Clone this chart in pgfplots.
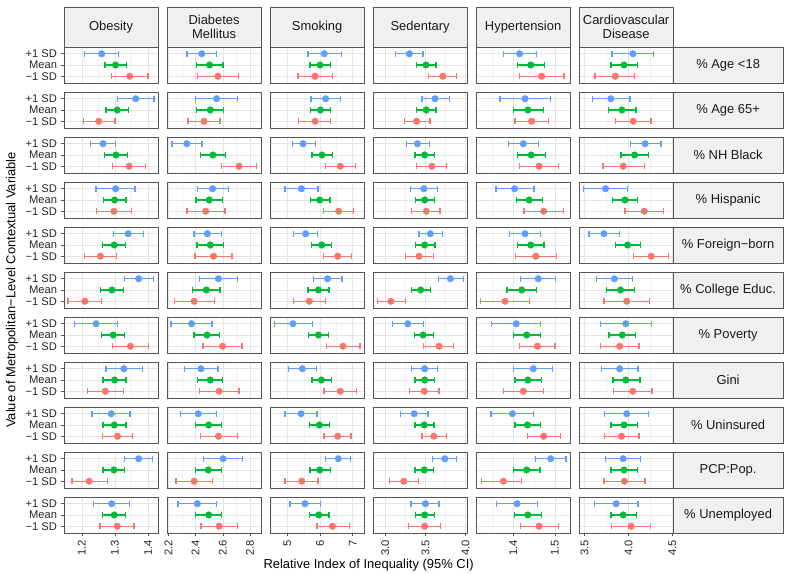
\documentclass[border=0pt]{standalone}
\usepackage{pgfplots}
\pgfplotsset{compat=1.18}
\usepgfplotslibrary{groupplots}
\usetikzlibrary{calc}
\usepackage{fontspec}
\setmainfont{Liberation Sans}
\definecolor{cA}{HTML}{619CFF}
\definecolor{cB}{HTML}{00BA38}
\definecolor{cC}{HTML}{F8766D}
\definecolor{stripfill}{HTML}{F0F0F0}
\definecolor{frame}{HTML}{555555}
\newcommand{\ci}[5]{%
\addplot[#1, only marks, mark=*, mark size=3.3bp, mark options={fill=#1, draw=none},
  error bars/.cd, x dir=both, x explicit,
  error bar style={line width=1.3bp, draw=#1, solid},
  error mark=|,
  error mark options={draw=#1, line width=1.3bp, mark size=3bp}]
  table[row sep=\\, x=e, y=y, x error plus expr=\thisrow{h}-\thisrow{e}, x error minus expr=\thisrow{e}-\thisrow{l}]
  {y l e h\\ #2 #3 #4 #5\\};}
\newcommand{\panel}[9]{\ci{cA}{3}{#1}{#2}{#3}\ci{cB}{2}{#4}{#5}{#6}\ci{cC}{1}{#7}{#8}{#9}}
\begin{document}
\begin{tikzpicture}
\pgfplotsset{
 c1/.style={xmin=1.146,xmax=1.431,xtick={1.2,1.3,1.4},minor xtick={1.15,1.25,1.35},xticklabels={1.2,1.3,1.4},yticklabels={−1 SD,Mean,+1 SD}},
 c2/.style={xmin=2.19,xmax=2.882,xtick={2.2,2.4,2.6,2.8},minor xtick={2.3,2.5,2.7},xticklabels={2.2,2.4,2.6,2.8},ytick style={draw=none}},
 c3/.style={xmin=4.47,xmax=7.35,xtick={5,6,7},minor xtick={4.5,5.5,6.5},xticklabels={5,6,7},ytick style={draw=none}},
 c4/.style={xmin=2.847,xmax=4.02,xtick={3,3.5,4},minor xtick={3.25,3.75},xticklabels={3.0,3.5,4.0},ytick style={draw=none}},
 c5/.style={xmin=1.31,xmax=1.537,xtick={1.4,1.5},minor xtick={1.35,1.45},xticklabels={1.4,1.5},ytick style={draw=none}},
 c6/.style={xmin=3.437,xmax=4.51,xtick={3.5,4,4.5},minor xtick={3.75,4.25},xticklabels={3.5,4.0,4.5},ytick style={draw=none}},
 T/.style={xticklabels={},xtick style={draw=none}},
}
\begin{groupplot}[group style={group size=6 by 11, horizontal sep=8.8bp, vertical sep=9bp, group name=g},
 scale only axis, width=94.2bp, height=36bp, ymin=0.4, ymax=3.6, ytick={1,2,3}, yticklabels={},
 axis line style={draw=frame, line width=0.8bp},
 grid=both, major grid style={draw=black!10, line width=0.6bp}, minor grid style={draw=black!5, line width=0.35bp},
 tick align=outside, major tick length=3.5bp, minor tick length=0bp, tick style={frame, line width=0.6bp},
 xtick pos=bottom, ytick pos=left,
 ticklabel style={font=\fontsize{11.2}{13}\selectfont, text=black!85},
 xticklabel style={rotate=90, anchor=east},
 /pgf/number format/assume math mode=true]
% Row 1 Age <18
\nextgroupplot[c1,T]\panel{1.208}{1.26}{1.31}{1.27}{1.302}{1.336}{1.29}{1.345}{1.40}
\nextgroupplot[c2,T]\panel{2.336}{2.445}{2.556}{2.408}{2.503}{2.602}{2.413}{2.564}{2.716}
\nextgroupplot[c3,T]\panel{5.63}{6.13}{6.65}{5.69}{6.00}{6.31}{5.33}{5.85}{6.37}
\nextgroupplot[c4,T]\panel{3.13}{3.30}{3.47}{3.39}{3.506}{3.63}{3.54}{3.716}{3.89}
\nextgroupplot[c5,T]\panel{1.376}{1.415}{1.456}{1.41}{1.442}{1.475}{1.414}{1.468}{1.522}
\nextgroupplot[c6,T]\panel{3.813}{4.051}{4.289}{3.80}{3.95}{4.10}{3.62}{3.85}{4.07}
% Row 2 Age 65+
\nextgroupplot[c1,T]\panel{1.307}{1.363}{1.418}{1.273}{1.307}{1.341}{1.204}{1.251}{1.30}
\nextgroupplot[c2,T]\panel{2.40}{2.554}{2.709}{2.408}{2.508}{2.607}{2.345}{2.462}{2.58}
\nextgroupplot[c3,T]\panel{5.72}{6.17}{6.62}{5.70}{6.01}{6.33}{5.35}{5.85}{6.33}
\nextgroupplot[c4,T]\panel{3.457}{3.62}{3.80}{3.39}{3.51}{3.63}{3.235}{3.39}{3.556}
\nextgroupplot[c5,T]\panel{1.368}{1.428}{1.489}{1.40}{1.435}{1.472}{1.404}{1.444}{1.484}
\nextgroupplot[c6,T]\panel{3.59}{3.80}{4.017}{3.775}{3.926}{4.085}{3.85}{4.055}{4.258}
% Row 3 NH Black
\nextgroupplot[c1,T]\panel{1.227}{1.264}{1.301}{1.269}{1.303}{1.338}{1.293}{1.343}{1.393}
\nextgroupplot[c2,T]\panel{2.227}{2.336}{2.447}{2.438}{2.527}{2.619}{2.588}{2.719}{2.85}
\nextgroupplot[c3,T]\panel{5.15}{5.48}{5.86}{5.75}{6.06}{6.37}{6.16}{6.62}{7.08}
\nextgroupplot[c4,T]\panel{3.26}{3.40}{3.55}{3.37}{3.49}{3.61}{3.39}{3.58}{3.765}
\nextgroupplot[c5,T]\panel{1.388}{1.424}{1.461}{1.41}{1.443}{1.477}{1.414}{1.462}{1.509}
\nextgroupplot[c6,T]\panel{4.02}{4.19}{4.37}{3.915}{4.07}{4.23}{3.71}{3.94}{4.18}
% Row 4 Hispanic
\nextgroupplot[c1,T]\panel{1.243}{1.302}{1.361}{1.265}{1.299}{1.334}{1.244}{1.297}{1.351}
\nextgroupplot[c2,T]\panel{2.413}{2.525}{2.641}{2.404}{2.50}{2.60}{2.336}{2.474}{2.615}
\nextgroupplot[c3,T]\panel{4.93}{5.43}{5.94}{5.70}{5.99}{6.30}{6.11}{6.57}{7.03}
\nextgroupplot[c4,T]\panel{3.31}{3.48}{3.65}{3.38}{3.49}{3.61}{3.33}{3.51}{3.68}
\nextgroupplot[c5,T]\panel{1.358}{1.403}{1.45}{1.408}{1.438}{1.47}{1.426}{1.473}{1.52}
\nextgroupplot[c6,T]\panel{3.485}{3.74}{3.99}{3.82}{3.96}{4.10}{3.96}{4.18}{4.40}
% Row 5 Foreign-born
\nextgroupplot[c1,T]\panel{1.295}{1.34}{1.387}{1.263}{1.298}{1.333}{1.208}{1.256}{1.305}
\nextgroupplot[c2,T]\panel{2.389}{2.486}{2.588}{2.411}{2.508}{2.607}{2.396}{2.532}{2.668}
\nextgroupplot[c3,T]\panel{5.18}{5.56}{5.92}{5.74}{6.05}{6.36}{6.10}{6.54}{6.97}
\nextgroupplot[c4,T]\panel{3.42}{3.56}{3.71}{3.375}{3.49}{3.62}{3.25}{3.42}{3.60}
\nextgroupplot[c5,T]\panel{1.39}{1.428}{1.466}{1.41}{1.442}{1.474}{1.406}{1.454}{1.504}
\nextgroupplot[c6,T]\panel{3.55}{3.72}{3.90}{3.85}{3.99}{4.14}{4.06}{4.26}{4.46}
% Row 6 College Educ.
\nextgroupplot[c1,T]\panel{1.328}{1.372}{1.416}{1.256}{1.291}{1.325}{1.158}{1.209}{1.259}
\nextgroupplot[c2,T]\panel{2.43}{2.568}{2.709}{2.379}{2.479}{2.58}{2.244}{2.389}{2.537}
\nextgroupplot[c3,T]\panel{5.79}{6.23}{6.67}{5.63}{5.95}{6.27}{5.18}{5.67}{6.17}
\nextgroupplot[c4,T]\panel{3.66}{3.81}{3.97}{3.325}{3.44}{3.56}{2.90}{3.07}{3.25}
\nextgroupplot[c5,T]\panel{1.418}{1.46}{1.501}{1.385}{1.42}{1.455}{1.32}{1.38}{1.439}
\nextgroupplot[c6,T]\panel{3.636}{3.84}{4.05}{3.75}{3.91}{4.07}{3.72}{3.98}{4.24}
% Row 7 Poverty
\nextgroupplot[c1,T]\panel{1.177}{1.243}{1.307}{1.26}{1.295}{1.329}{1.292}{1.347}{1.402}
\nextgroupplot[c2,T]\panel{2.22}{2.37}{2.52}{2.389}{2.484}{2.578}{2.455}{2.598}{2.74}
\nextgroupplot[c3,T]\panel{4.60}{5.17}{5.77}{5.64}{5.95}{6.26}{6.19}{6.70}{7.22}
\nextgroupplot[c4,T]\panel{3.09}{3.28}{3.48}{3.36}{3.47}{3.60}{3.48}{3.67}{3.85}
\nextgroupplot[c5,T]\panel{1.348}{1.407}{1.466}{1.40}{1.432}{1.465}{1.415}{1.458}{1.50}
\nextgroupplot[c6,T]\panel{3.68}{3.97}{4.26}{3.78}{3.93}{4.08}{3.68}{3.90}{4.12}
% Row 8 Gini
\nextgroupplot[c1,T]\panel{1.273}{1.327}{1.383}{1.264}{1.299}{1.334}{1.217}{1.271}{1.325}
\nextgroupplot[c2,T]\panel{2.319}{2.44}{2.564}{2.413}{2.508}{2.60}{2.428}{2.573}{2.719}
\nextgroupplot[c3,T]\panel{5.03}{5.46}{5.89}{5.75}{6.04}{6.35}{6.12}{6.62}{7.12}
\nextgroupplot[c4,T]\panel{3.33}{3.49}{3.65}{3.37}{3.49}{3.61}{3.30}{3.485}{3.67}
\nextgroupplot[c5,T]\panel{1.40}{1.448}{1.495}{1.404}{1.435}{1.468}{1.377}{1.424}{1.472}
\nextgroupplot[c6,T]\panel{3.69}{3.90}{4.11}{3.825}{3.97}{4.13}{3.83}{4.05}{4.27}
% Row 9 Uninsured
\nextgroupplot[c1,T]\panel{1.231}{1.289}{1.346}{1.264}{1.298}{1.334}{1.263}{1.308}{1.354}
\nextgroupplot[c2,T]\panel{2.287}{2.42}{2.556}{2.40}{2.496}{2.59}{2.438}{2.568}{2.707}
\nextgroupplot[c3,T]\panel{4.93}{5.42}{5.91}{5.68}{5.98}{6.29}{6.12}{6.54}{6.95}
\nextgroupplot[c4,T]\panel{3.19}{3.36}{3.53}{3.37}{3.485}{3.605}{3.457}{3.605}{3.76}
\nextgroupplot[c5,T]\panel{1.346}{1.398}{1.449}{1.404}{1.434}{1.466}{1.434}{1.473}{1.513}
\nextgroupplot[c6,T]\panel{3.73}{3.98}{4.23}{3.80}{3.95}{4.10}{3.73}{3.92}{4.12}
% Row 10 PCP:Pop.
\nextgroupplot[c1,T]\panel{1.328}{1.372}{1.413}{1.264}{1.297}{1.33}{1.17}{1.222}{1.277}
\nextgroupplot[c2,T]\panel{2.46}{2.602}{2.743}{2.40}{2.493}{2.588}{2.256}{2.389}{2.522}
\nextgroupplot[c3,T]\panel{6.17}{6.56}{6.93}{5.69}{5.99}{6.31}{4.93}{5.44}{5.94}
\nextgroupplot[c4,T]\panel{3.59}{3.74}{3.89}{3.37}{3.485}{3.60}{3.05}{3.23}{3.41}
\nextgroupplot[c5,T]\panel{1.454}{1.49}{1.527}{1.40}{1.432}{1.464}{1.324}{1.376}{1.42}
\nextgroupplot[c6,T]\panel{3.74}{3.94}{4.14}{3.80}{3.95}{4.10}{3.72}{3.955}{4.19}
% Row 11 Unemployed
\nextgroupplot[c1]\panel{1.235}{1.29}{1.345}{1.263}{1.298}{1.333}{1.255}{1.307}{1.358}
\nextgroupplot[c2]\panel{2.27}{2.413}{2.554}{2.40}{2.496}{2.59}{2.44}{2.573}{2.707}
\nextgroupplot[c3]\panel{5.08}{5.54}{6.01}{5.67}{5.96}{6.27}{5.91}{6.38}{6.89}
\nextgroupplot[c4]\panel{3.32}{3.50}{3.67}{3.38}{3.49}{3.61}{3.29}{3.49}{3.69}
\nextgroupplot[c5]\panel{1.36}{1.409}{1.459}{1.403}{1.435}{1.468}{1.418}{1.462}{1.508}
\nextgroupplot[c6]\panel{3.61}{3.86}{4.11}{3.80}{3.94}{4.09}{3.81}{4.03}{4.25}
\end{groupplot}
% column strips
\foreach \c/\t in {1/{Obesity},2/{Diabetes\\Mellitus},3/{Smoking},4/{Sedentary},5/{Hypertension},6/{Cardiovascular\\Disease}}{
  \draw[fill=stripfill, draw=frame, line width=0.8bp] (g c\c r1.north west) rectangle ($(g c\c r1.north east)+(0,40bp)$);
  \node[align=center, font=\fontsize{13}{14.5}\selectfont, text=black!90] at ($(g c\c r1.north)+(0,20bp)$) {\t};
}
% row strips
\foreach \r/\t in {1/{\% Age <18},2/{\% Age 65+},3/{\% NH Black},4/{\% Hispanic},5/{\% Foreign−born},6/{\% College Educ.},7/{\% Poverty},8/{Gini},9/{\% Uninsured},10/{PCP:Pop.},11/{\% Unemployed}}{
  \draw[fill=stripfill, draw=frame, line width=0.8bp] (g c6r\r.north east) rectangle ($(g c6r\r.south east)+(109.8bp,0)$);
  \node[font=\fontsize{13}{15}\selectfont, text=black!90] at ($(g c6r\r.east)+(54.9bp,0)$) {\t};
}
\node[font=\fontsize{13}{15}\selectfont] at ($(g c1r11.south west)!0.5!(g c6r11.south east)+(0,-32bp)$) {Relative Index of Inequality (95\% CI)};
\node[font=\fontsize{13}{15}\selectfont, rotate=90] at ($(g c1r1.north west)!0.5!(g c1r11.south west)+(-52bp,0)$) {Value of Metropolitan−Level Contextual Variable};
\pgfresetboundingbox
\path[use as bounding box] ($(g c1r1.north west)+(-64bp,47bp)$) rectangle ++(788bp,-574bp);
\end{tikzpicture}
\end{document}
